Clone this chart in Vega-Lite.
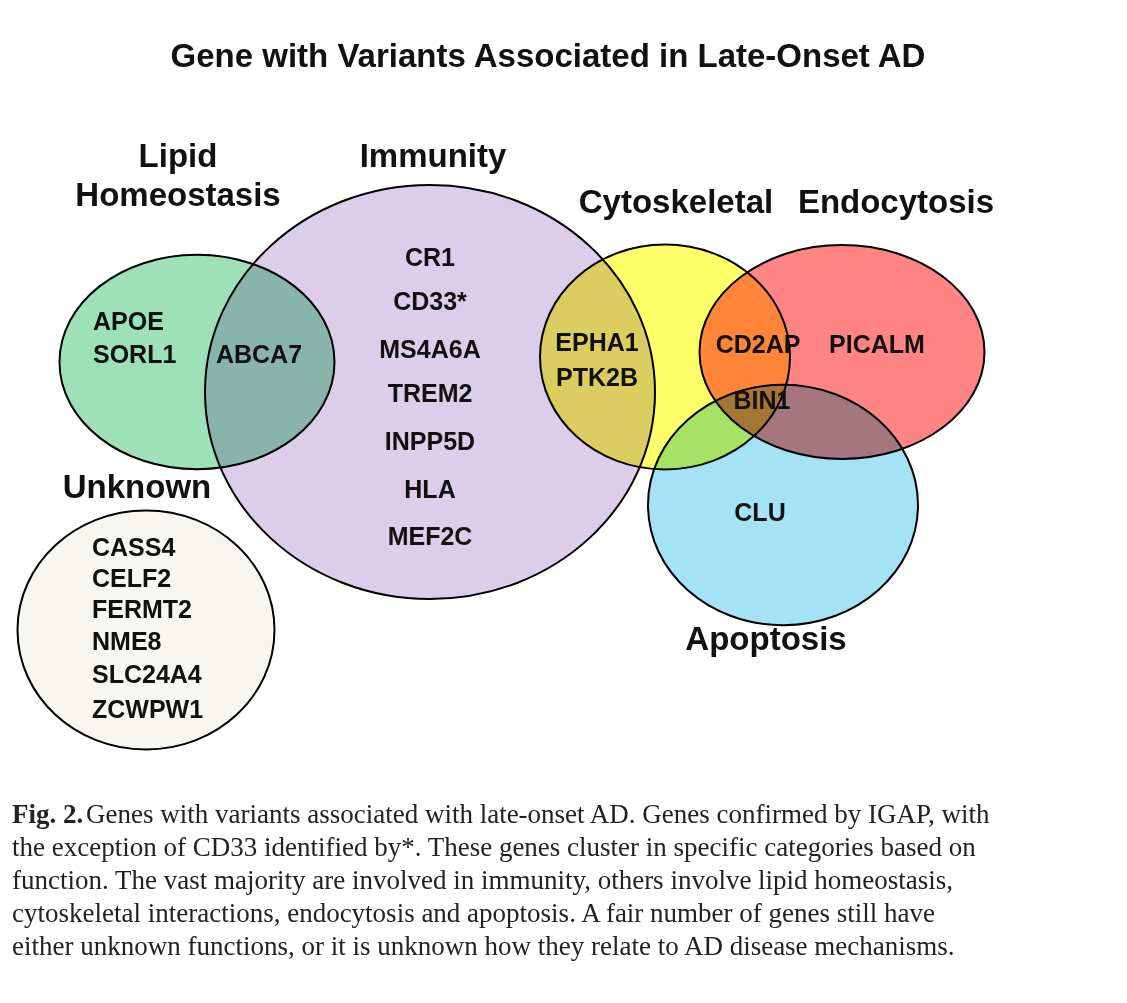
{
"$schema":"https://vega.github.io/schema/vega-lite/v6.json",
"width":1127,"height":1003,"autosize":"none","padding":0,
"background":"white",
"config":{"view":{"stroke":null}},
"datasets":{
"sets":[
{"set":"Lipid","cx":197,"cy":362,"w":275},
{"set":"Immunity","cx":430,"cy":392,"w":450},
{"set":"Unknown","cx":146,"cy":630,"w":257},
{"set":"Apoptosis","cx":783,"cy":505,"w":270},
{"set":"Cytoskeletal","cx":665,"cy":357,"w":250},
{"set":"Endocytosis","cx":842,"cy":352,"w":285}
],
"genes":[
{"t":"CR1","x":430,"y":258},{"t":"CD33*","x":430,"y":302},{"t":"MS4A6A","x":430,"y":350},
{"t":"TREM2","x":430,"y":394},{"t":"INPP5D","x":430,"y":442},{"t":"HLA","x":430,"y":490},
{"t":"MEF2C","x":430,"y":537},{"t":"ABCA7","x":259,"y":355},{"t":"EPHA1","x":597,"y":343},
{"t":"PTK2B","x":597,"y":378},{"t":"CD2AP","x":758,"y":345},{"t":"PICALM","x":877,"y":345},
{"t":"BIN1","x":762,"y":401},{"t":"CLU","x":760,"y":513}
],
"genesLeft":[
{"t":"APOE","x":93,"y":322},{"t":"SORL1","x":93,"y":355},
{"t":"CASS4","x":92,"y":548},{"t":"CELF2","x":92,"y":579},{"t":"FERMT2","x":92,"y":610},
{"t":"NME8","x":92,"y":642},{"t":"SLC24A4","x":92,"y":675},{"t":"ZCWPW1","x":92,"y":710}
],
"cats":[
{"t":"Lipid","x":178,"y":157},{"t":"Homeostasis","x":178,"y":196},{"t":"Immunity","x":433,"y":157},
{"t":"Cytoskeletal","x":676,"y":203},{"t":"Endocytosis","x":896,"y":203},
{"t":"Unknown","x":137,"y":488},{"t":"Apoptosis","x":766,"y":640}
],
"title":[{"t":"Gene with Variants Associated in Late-Onset AD","x":548,"y":57}],
"capBold":[{"t":"Fig. 2.","x":12,"y":815}],
"cap":[
{"t":"Genes with variants associated with late-onset AD. Genes confirmed by IGAP, with","x":86,"y":815},
{"t":"the exception of CD33 identified by*. These genes cluster in specific categories based on","x":12,"y":848},
{"t":"function. The vast majority are involved in immunity, others involve lipid homeostasis,","x":12,"y":881},
{"t":"cytoskeletal interactions, endocytosis and apoptosis. A fair number of genes still have","x":12,"y":914},
{"t":"either unknown functions, or it is unknown how they relate to AD disease mechanisms.","x":12,"y":947}
]
},
"layer":[
{"data":{"name":"sets"},
 "mark":{"type":"point","filled":true,"stroke":"black","strokeWidth":2,"opacity":1,"strokeOpacity":1,"fillOpacity":1,"blend":"multiply"},
 "encoding":{
  "x":{"field":"cx","type":"quantitative","scale":{"domain":[0,1127],"nice":false,"zero":false},"axis":null},
  "y":{"field":"cy","type":"quantitative","scale":{"domain":[1003,0],"nice":false,"zero":false},"axis":null},
  "size":{"field":"w","type":"quantitative","scale":{"type":"pow","exponent":2,"domain":[0,1000],"range":[0,1000000]},"legend":null},
  "shape":{"field":"set","type":"nominal","scale":{"domain":["Lipid","Immunity","Unknown","Apoptosis","Cytoskeletal","Endocytosis"],
   "range":["M-1,0A1,0.78 0 1,0 1,0A1,0.78 0 1,0 -1,0Z","M-1,0A1,0.92 0 1,0 1,0A1,0.92 0 1,0 -1,0Z","M-1,0A1,0.93 0 1,0 1,0A1,0.93 0 1,0 -1,0Z","M-1,0A1,0.89 0 1,0 1,0A1,0.89 0 1,0 -1,0Z","M-1,0A1,0.9 0 1,0 1,0A1,0.9 0 1,0 -1,0Z","M-1,0A1,0.75 0 1,0 1,0A1,0.75 0 1,0 -1,0Z"]},"legend":null},
  "color":{"field":"set","type":"nominal","scale":{"domain":["Lipid","Immunity","Unknown","Apoptosis","Cytoskeletal","Endocytosis"],
   "range":["#9ee0b8","#dccdea","#f8f6f0","#a6e2f6","#ffff6a","#ff8585"]},"legend":null}
 }},
{"data":{"name":"genes"},"mark":{"type":"text","font":"Liberation Sans","fontWeight":"bold","fontSize":25,"align":"center","baseline":"middle","color":"#111"},
 "encoding":{"x":{"field":"x","type":"quantitative"},"y":{"field":"y","type":"quantitative"},"text":{"field":"t"}}},
{"data":{"name":"genesLeft"},"mark":{"type":"text","font":"Liberation Sans","fontWeight":"bold","fontSize":25,"align":"left","baseline":"middle","color":"#111"},
 "encoding":{"x":{"field":"x","type":"quantitative"},"y":{"field":"y","type":"quantitative"},"text":{"field":"t"}}},
{"data":{"name":"cats"},"mark":{"type":"text","font":"Liberation Sans","fontWeight":"bold","fontSize":33,"align":"center","baseline":"middle","color":"#111"},
 "encoding":{"x":{"field":"x","type":"quantitative"},"y":{"field":"y","type":"quantitative"},"text":{"field":"t"}}},
{"data":{"name":"title"},"mark":{"type":"text","font":"Liberation Sans","fontWeight":"bold","fontSize":33,"align":"center","baseline":"middle","color":"#111"},
 "encoding":{"x":{"field":"x","type":"quantitative"},"y":{"field":"y","type":"quantitative"},"text":{"field":"t"}}},
{"data":{"name":"capBold"},"mark":{"type":"text","font":"Liberation Serif","fontWeight":"bold","fontSize":27,"align":"left","baseline":"middle","color":"#222"},
 "encoding":{"x":{"field":"x","type":"quantitative"},"y":{"field":"y","type":"quantitative"},"text":{"field":"t"}}},
{"data":{"name":"cap"},"mark":{"type":"text","font":"Liberation Serif","fontSize":27,"align":"left","baseline":"middle","color":"#222"},
 "encoding":{"x":{"field":"x","type":"quantitative"},"y":{"field":"y","type":"quantitative"},"text":{"field":"t"}}}
]
}
